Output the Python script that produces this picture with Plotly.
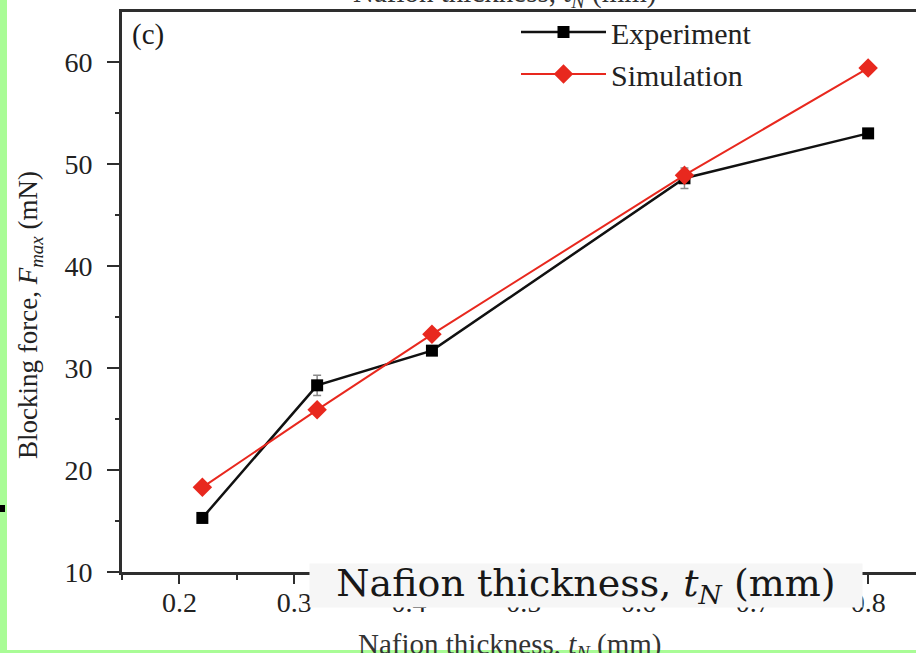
import plotly.graph_objects as go

# ---- data ----
thickness = [0.22, 0.32, 0.42, 0.64, 0.80]
experiment = [15.3, 28.3, 31.7, 48.6, 53.0]
experiment_err = [0.3, 1.0, 0.4, 1.0, 0.3]
simulation = [18.3, 25.9, 33.3, 48.9, 59.4]
x_ticks = [0.2, 0.3, 0.4, 0.5, 0.6, 0.7, 0.8]
y_ticks = [10, 20, 30, 40, 50, 60]

W, H = 916, 653
L, R, T, B = 122, 0, 12, 81
PW, PH = W - L - R, H - T - B


def px(xp):
    return (xp - L) / PW


def py(yp):
    return (H - B - yp) / PH


SERIF = "Liberation Serif, Times New Roman, serif"

fig = go.Figure()
fig.add_trace(go.Scatter(
    x=thickness, y=experiment, name="Experiment", mode="lines+markers",
    line=dict(color="#111111", width=2.5),
    marker=dict(symbol="square", size=12, color="#000000"),
    error_y=dict(type="data", array=experiment_err, visible=True,
                 color="#888888", thickness=1.5, width=4),
))
fig.add_trace(go.Scatter(
    x=thickness, y=simulation, name="Simulation", mode="lines+markers",
    line=dict(color="#e8281e", width=2),
    marker=dict(symbol="diamond", size=15, color="#e8281e"),
))

axis_common = dict(
    showgrid=False, zeroline=False, showline=True, linecolor="#2e2e2e",
    linewidth=3, ticks="outside", tickcolor="#2e2e2e", tickwidth=2,
    tickfont=dict(family=SERIF, size=28, color="#222222"),
)

fig.update_xaxes(
    range=[0.15, 0.8417], tickvals=x_ticks, ticktext=[str(v) for v in x_ticks],
    ticklen=9, mirror=True, ticklabelstandoff=-6,
    minor=dict(dtick=0.05, tick0=0.15, ticklen=5, ticks="outside",
               tickcolor="#2e2e2e", tickwidth=2),
    **axis_common,
)
fig.update_yaxes(
    range=[10, 64.9], tickvals=y_ticks, ticklen=12, ticklabelstandoff=9,
    minor=dict(dtick=5, tick0=10, ticklen=4, ticks="outside",
               tickcolor="#2e2e2e", tickwidth=2),
    **axis_common,
)

annotations = [
    dict(text="(c)", x=px(148), y=py(35), xref="paper", yref="paper",
         xanchor="center", yanchor="middle",
         showarrow=False, font=dict(family=SERIF, size=29, color="#1a1a1a")),
    dict(text="Blocking force, <i>F</i><sub><i>max</i></sub> (mN)",
         x=px(30), y=py(315), xref="paper", yref="paper", textangle=-90,
         xanchor="center", yanchor="middle",
         showarrow=False, font=dict(family=SERIF, size=27, color="#222222")),
    dict(text="Nafion thickness, <i>t</i><sub><i>N</i></sub> (mm)",
         x=px(505), y=py(14), xref="paper", yref="paper",
         xanchor="center", yanchor="bottom",
         showarrow=False, font=dict(family=SERIF, size=29, color="#333333")),
    dict(text="Nafion thickness, <i>t</i><sub><i>N</i></sub> (mm)",
         x=px(510), y=py(626), xref="paper", yref="paper",
         xanchor="center", yanchor="top",
         showarrow=False, font=dict(family=SERIF, size=29, color="#333333")),
    dict(text="Nafion thickness, <i>t<sub>N</sub></i> (mm)",
         x=px(586), y=py(585), xref="paper", yref="paper",
         xanchor="center", yanchor="middle",
         width=552, height=43, bgcolor="#f6f6f6", borderpad=0,
         showarrow=False,
         font=dict(family="DejaVu Serif, serif", size=38, color="#181818")),
]

shapes = [
    dict(type="rect", xref="paper", yref="paper", x0=px(0), x1=px(7),
         y0=py(H), y1=py(0), fillcolor="#a9fc96", line=dict(width=0),
         layer="above"),
    dict(type="rect", xref="paper", yref="paper", x0=px(0), x1=px(W),
         y0=py(H), y1=py(650), fillcolor="#a9fc96", line=dict(width=0),
         layer="above"),
    dict(type="rect", xref="paper", yref="paper", x0=px(0), x1=px(5),
         y0=py(512), y1=py(505), fillcolor="#000000", line=dict(width=0),
         layer="above"),
]

fig.update_layout(
    width=W, height=H,
    margin=dict(l=L, r=R, t=T, b=B, pad=0),
    paper_bgcolor="white", plot_bgcolor="white",
    showlegend=True,
    legend=dict(x=px(516), y=py(6), xanchor="left", yanchor="top",
                bgcolor="rgba(0,0,0,0)", tracegroupgap=0,
                font=dict(family=SERIF, size=30, color="#222222"),
                itemwidth=85),
    annotations=annotations, shapes=shapes,
)

fig.write_html("out.html",
               config={"displayModeBar": False},
               post_script="document.body.style.margin='0';"
                           "document.body.style.overflow='hidden';")
